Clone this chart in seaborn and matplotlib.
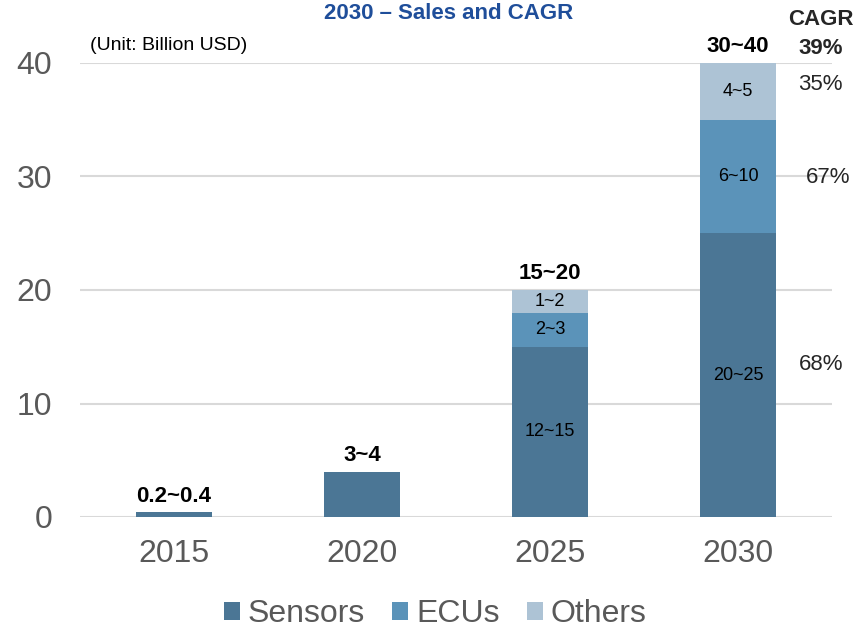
import matplotlib
matplotlib.use("Agg")
import matplotlib.pyplot as plt
import seaborn as sns
import numpy as np
import pandas as pd
from matplotlib.patches import Patch

years = ["2015", "2020", "2025", "2030"]
sensors = [0.4, 4, 15, 25]
ecus = [0, 0, 3, 10]
others = [0, 0, 2, 5]
total_labels = ["0.2~0.4", "3~4", "15~20", "30~40"]
sensor_labels = ["", "", "12~15", "20~25"]
ecu_labels = ["", "", "2~3", "6~10"]
other_labels = ["", "", "1~2", "4~5"]
cagr_labels = ["39%", "35%", "67%", "68%"]
cagr_y = [41.3, 38.1, 29.9, 13.4]
series_names = ["Sensors", "ECUs", "Others"]
colors = ["#4B7695", "#5B93B9", "#ADC3D5"]

sns.set_theme(style="white")
plt.rcParams['font.family'] = ['Liberation Sans', 'DejaVu Sans']
narrow = ['Liberation Sans Narrow', 'Liberation Sans']

fig = plt.figure(figsize=(8.56, 6.28), dpi=100)
ax = fig.add_axes([80/856, 1-517/628, 752/856, 454/628])

df = pd.DataFrame({"year": years, "Sensors": sensors, "ECUs": ecus, "Others": others})
bottom = np.zeros(len(years))
for name, col in zip(series_names, colors):
    sns.barplot(data=df, x="year", y=name, order=years, color=col, bottom=bottom,
                width=0.4, ax=ax, saturation=1, linewidth=0)
    bottom = bottom + df[name].values

ax.set_xlim(-0.5, 3.5)
ax.set_ylim(0, 40)
ax.set_yticks([0, 10, 20, 30, 40])
ax.set_xlabel("")
ax.set_ylabel("")
for s in ax.spines.values():
    s.set_visible(False)
ax.yaxis.grid(True, color="#D9D9D9", linewidth=1.5)
ax.set_axisbelow(True)
ax.tick_params(axis="both", length=0, labelsize=23, labelcolor="#595959")
ax.tick_params(axis="y", pad=20)
ax.tick_params(axis="x", pad=16)

# segment labels
s_arr = np.array(sensors, float); e_arr = np.array(ecus, float); o_arr = np.array(others, float)
for i in range(len(years)):
    if sensor_labels[i]:
        ax.text(i, s_arr[i]/2, sensor_labels[i], ha="center", va="center", fontsize=13, family=narrow, color="black")
    if ecu_labels[i]:
        ax.text(i, s_arr[i] + e_arr[i]/2, ecu_labels[i], ha="center", va="center", fontsize=13, family=narrow, color="black")
    if other_labels[i]:
        ax.text(i, s_arr[i] + e_arr[i] + o_arr[i]/2, other_labels[i], ha="center", va="center", fontsize=13, family=narrow, color="black")
    tot = s_arr[i] + e_arr[i] + o_arr[i]
    ax.annotate(total_labels[i], (i, tot), xytext=(0, 4), textcoords="offset points",
                ha="center", va="bottom", fontsize=16, fontweight="bold", family=narrow,
                color="black", annotation_clip=False)

# CAGR column
ax.text(3.44, 43.8, "CAGR", ha="center", va="center", fontsize=16, fontweight="bold", family=narrow, clip_on=False)
for lab, y in zip(cagr_labels, cagr_y):
    bold = lab == cagr_labels[0]
    ax.text(3.44 if lab != "67%" else 3.48, y, lab, ha="center", va="center", fontsize=16,
            fontweight="bold" if bold else "normal", family=narrow, clip_on=False)

fig.text(90/856, 1-45/628, "(Unit: Billion USD)", ha="left", va="center", fontsize=14, family=narrow, color="black")
fig.text(449/856, 1-3/628, "2030 – Sales and CAGR", ha="center", va="top", fontsize=16,
         fontweight="bold", family=narrow, color="#1F4E9A")

handles = [Patch(facecolor=c, edgecolor="none") for c in colors]
fig.legend(handles, series_names, loc="center", bbox_to_anchor=(435/856, 1-614/628), ncol=3,
           frameon=False, fontsize=23, labelcolor="#595959", handlelength=0.5, handleheight=0.5,
           handletextpad=0.25, columnspacing=0.85)

fig.savefig("out.png", dpi=100)
